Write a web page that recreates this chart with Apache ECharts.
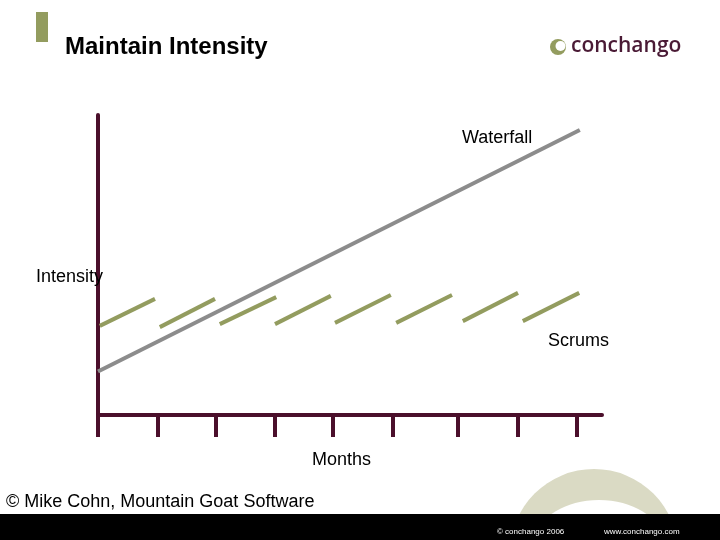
<!DOCTYPE html>
<html>
<head>
<meta charset="utf-8">
<script src="https://cdn.jsdelivr.net/npm/echarts@6/dist/echarts.min.js"></script>
<style>html,body{margin:0;padding:0;background:#fff}#c{width:720px;height:540px}</style>
</head>
<body>
<div id="c"></div>
<script>
// Months (x) and intensity (y) in arbitrary units
var monthTicks = [0, 1, 1.97, 2.95, 3.92, 4.92, 6, 7, 7.98];
var waterfallX = [0, 8.03];
var waterfallY = [1.45, 9.5];
var scrumStartX = [0.03, 1.03, 2.03, 2.95, 3.95, 4.97, 6.08, 7.08];
var scrumEndX   = [0.95, 1.95, 2.97, 3.88, 4.88, 5.90, 7.00, 8.02];
var scrumStartY = [2.97, 2.93, 3.03, 3.03, 3.07, 3.07, 3.13, 3.13];
var scrumEndY   = [3.87, 3.87, 3.93, 3.97, 4.00, 4.00, 4.07, 4.07];

var axisColor = '#4b0f2b';
var series = [];
series.push({
  type: 'line', name: 'Waterfall', symbol: 'none', silent: true,
  lineStyle: { color: '#8c8c8c', width: 4 },
  data: waterfallX.map(function (x, i) { return [x, waterfallY[i]]; })
});
for (var i = 0; i < scrumStartX.length; i++) {
  series.push({
    type: 'line', name: 'Scrums', symbol: 'none', silent: true,
    lineStyle: { color: '#939c5f', width: 4 },
    data: [[scrumStartX[i], scrumStartY[i]], [scrumEndX[i], scrumEndY[i]]]
  });
}

var F = '"Liberation Sans", Arial, sans-serif';
function label(txt, x, y, size, weight) {
  return { type: 'text', x: x, y: y, z: 10,
    style: { text: txt, font: (weight || 'normal') + ' ' + size + 'px ' + F, fill: '#000', verticalAlign: 'middle' } };
}

var chart = echarts.init(document.getElementById('c'), null, { renderer: 'canvas' });
chart.setOption({
  animation: false,
  backgroundColor: '#ffffff',
  grid: { left: 98, top: 115, width: 504, height: 300, containLabel: false },
  xAxis: {
    type: 'value', min: 0, max: 8.4,
    axisLine: { show: true, lineStyle: { color: axisColor, width: 4 } },
    axisTick: { show: true, customValues: monthTicks, length: 22, lineStyle: { color: axisColor, width: 4 } },
    axisLabel: { show: false },
    splitLine: { show: false }
  },
  yAxis: {
    type: 'value', min: 0, max: 10,
    axisLine: { show: true, lineStyle: { color: axisColor, width: 4 } },
    axisTick: { show: false },
    axisLabel: { show: false },
    splitLine: { show: false }
  },
  series: series,
  graphic: [
    { type: 'rect', shape: { x: 36, y: 12, width: 12, height: 30 }, style: { fill: '#939c5f' } },
    label('Maintain Intensity', 65, 47, 24, 'bold'),
    // logo
    { type: 'circle', shape: { cx: 558, cy: 47, r: 8 }, style: { fill: '#939c5f' } },
    { type: 'circle', shape: { cx: 560.5, cy: 46, r: 5 }, style: { fill: '#ffffff' } },
    { type: 'text', x: 571, y: 46, style: { text: 'conchango', font: '600 21px "Open Sans", sans-serif', fill: '#4a1a35', verticalAlign: 'middle' } },
    // labels
    label('Waterfall', 462, 138, 18),
    label('Intensity', 36, 277, 18),
    label('Scrums', 548, 341, 18),
    label('Months', 312, 460, 18),
    // footer decoration
    { type: 'circle', shape: { cx: 594, cy: 553, r: 84 }, style: { fill: '#dadac4' } },
    { type: 'ellipse', shape: { cx: 599, cy: 546, rx: 66, ry: 46 }, style: { fill: '#ffffff' } },
    label('\u00a9 Mike Cohn, Mountain Goat Software', 6, 502, 18),
    { type: 'rect', shape: { x: 0, y: 514, width: 720, height: 26 }, style: { fill: '#000' } },
    { type: 'text', x: 497, y: 532, style: { text: '\u00a9 conchango 2006', font: '8px ' + F, fill: '#fff', verticalAlign: 'middle' } },
    { type: 'text', x: 604, y: 532, style: { text: 'www.conchango.com', font: '8px ' + F, fill: '#fff', verticalAlign: 'middle' } }
  ]
});
</script>
</body>
</html>
